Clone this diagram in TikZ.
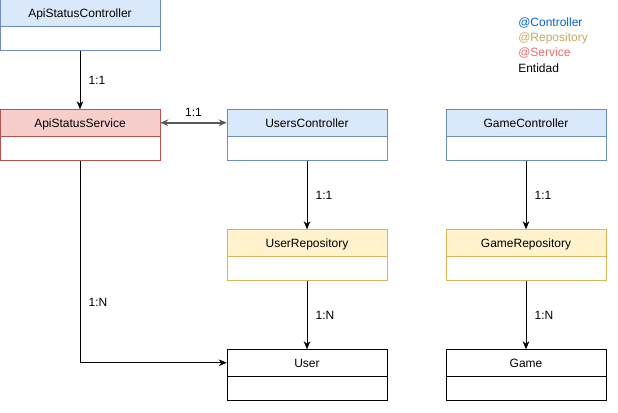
\documentclass[tikz,border=0pt]{standalone}
\usepackage{fontspec}
\setmainfont{Liberation Sans}
\usepackage{xcolor}
\definecolor{ctrlfill}{HTML}{DAE8FC}
\definecolor{ctrlline}{HTML}{6C8EBF}
\definecolor{repofill}{HTML}{FFF2CC}
\definecolor{repoline}{HTML}{D6B656}
\definecolor{svcfill}{HTML}{F8CECC}
\definecolor{svcline}{HTML}{B85450}
\definecolor{ctrltext}{HTML}{0066CC}
\definecolor{repotext}{HTML}{C8A860}
\definecolor{svctext}{HTML}{EA6B66}
\usepackage{tikz}
\usetikzlibrary{positioning}
\usetikzlibrary{arrows}
\usetikzlibrary{arrows.meta}
\usetikzlibrary{shapes.multipart,calc}

\newcommand{\clshead}[1]{\rule[-6.5pt]{0pt}{19.5pt}#1\nodepart{two}\rule{0pt}{18pt}}

\begin{document}
\begin{tikzpicture}[x=0.75pt,y=-0.75pt,font=\fontsize{9}{11}\selectfont]
        \useasboundingbox (0,0) rectangle (618,412);
        \begin{scope}[every node/.style={rectangle split, rectangle split parts=2, draw, thin,
                      inner xsep=0pt, inner ysep=0pt, minimum width=120pt, text width=120pt, align=center}]
            \node[draw=ctrlline, rectangle split part fill={ctrlfill,white}] (apictl) at (80,25) {\clshead{ApiStatusController}};
            \node[draw=svcline, rectangle split part fill={svcfill,white}] (apisvc) at (80,135) {\clshead{ApiStatusService}};
            \node[draw=ctrlline, rectangle split part fill={ctrlfill,white}] (usrctl) at (307,135) {\clshead{UsersController}};
            \node[draw=repoline, rectangle split part fill={repofill,white}] (usrrepo) at (307,255) {\clshead{UserRepository}};
            \node[draw=black, rectangle split part fill={white,white}] (user) at (307,375) {\clshead{User}};
            \node[draw=ctrlline, rectangle split part fill={ctrlfill,white}] (gamectl) at (526,135) {\clshead{GameController}};
            \node[draw=repoline, rectangle split part fill={repofill,white}] (gamerepo) at (526,255) {\clshead{GameRepository}};
            \node[draw=black, rectangle split part fill={white,white}] (game) at (526,375) {\clshead{Game}};
        \end{scope}
        \begin{scope}[every node/.style={anchor=west, inner sep=0pt}]
            \node[text=ctrltext] (legctl) at (518,23) {@Controller};
            \node[text=repotext] (legrepo) at (518,38) {@Repository};
            \node[text=svctext] (legsvc) at (518,53) {@Service};
            \node (legent) at (518,68) {Entidad};
        \end{scope}
        \begin{scope}[>={Stealth[length=6pt,width=5pt]},
                      every edge/.style={draw=black, thin}]
             \path [->] (apictl.south) edge node[right=3pt] {1:1} (apisvc.north);
             \path [<->] (apisvc.one east) edge[draw=black!65, line width=1.2pt] node[above=1pt] {1:1} (usrctl.one west);
             \path [->] (usrctl.south) edge node[right=3pt] {1:1} (usrrepo.north);
             \path [->] (usrrepo.south) edge node[right=3pt] {1:N} (user.north);
             \path [->] (gamectl.south) edge node[right=3pt] {1:1} (gamerepo.north);
             \path [->] (gamerepo.south) edge node[right=3pt] {1:N} (game.north);
        \end{scope}
        \draw [->, >={Stealth[length=6pt,width=5pt]}, thin] (apisvc.south) |- node[pos=0.35, right=3pt] {1:N} (user.one west);
\end{tikzpicture}
\end{document}
